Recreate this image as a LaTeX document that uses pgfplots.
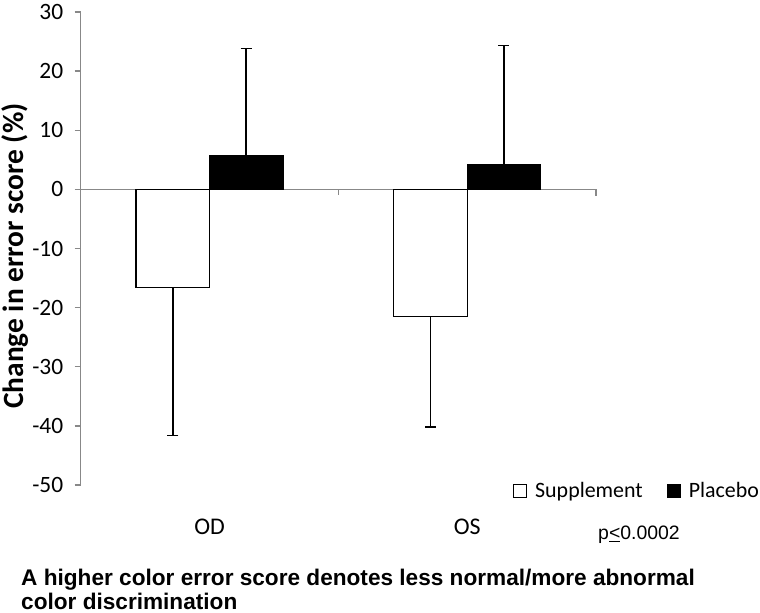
\documentclass[border=0pt]{standalone}
\usepackage{fontspec}
\setmainfont{Carlito}
\newfontfamily\arial{Liberation Sans}
\usepackage{pgfplots}
\pgfplotsset{compat=1.18}
\definecolor{axisgray}{HTML}{888888}
% x positions: category centre (0.5 = OD, 1.5 = OS) -/+ half a bar width
\pgfplotstableread{
x y e
0.3575 -16.6 25.0
1.3575 -21.5 18.7
}\supp
\pgfplotstableread{
x y e
0.6425 5.7 18.1
1.6425 4.1 20.2
}\plac
\begin{document}
\begin{tikzpicture}
\path[use as bounding box] (0,0) rectangle (760bp,613bp);
\begin{axis}[
  at={(80.7bp,128bp)}, anchor=south west,
  scale only axis, width=515.3bp, height=473bp,
  xmin=0, xmax=2, ymin=-50, ymax=30,
  axis y line=left, axis x line=bottom, axis line style={-},
  x axis line style={draw=none},
  y axis line style={draw=axisgray, line width=1.3bp},
  xtick={0.5,1.5}, xticklabels={OD,OS},
  x tick style={draw=none},
  xticklabel style={font=\fontsize{24}{24}\selectfont, yshift=-24bp},
  ytick={-50,-40,-30,-20,-10,0,10,20,30},
  yticklabels={-50,-40,-30,-20,-10,0,10,20,30},
  yticklabel style={font=\fontsize{23.5}{23.5}\selectfont, xshift=-8bp},
  y tick style={draw=axisgray, line width=1.3bp},
  tick align=outside, major tick length=6bp,
  ylabel={\bfseries Change in error score (\%)},
  ylabel style={font=\fontsize{29.5}{29.5}\selectfont, at={(axis description cs:-0.1275,0.484)}, anchor=center},
  clip=false,
  legend columns=2,
  legend cell align=left,
  legend style={draw=none, fill=none, at={(axis description cs:0.8389,-0.0127)}, anchor=west,
    inner sep=0pt, font=\fontsize{22}{22}\selectfont,
    /tikz/every odd column/.append style={column sep=6bp},
    /tikz/every even column/.append style={column sep=22bp}},
]
\draw[axisgray, line width=1.3bp] (axis cs:0,0) -- (axis cs:2,0);
\draw[axisgray, line width=1.3bp] (axis cs:1,0) -- ++(0pt,-6bp);
\draw[axisgray, line width=1.3bp] (axis cs:2,0) -- ++(0pt,-7bp);
\addplot[ybar, bar width=0.285, bar shift=0, fill=white, draw=black, line width=1.3bp,
  legend image code/.code={\draw[fill=white, draw=black, line width=1bp] (0bp,-6.5bp) rectangle (13bp,6.5bp);},
  error bars/.cd, y dir=minus, y explicit,
  error bar style={line width=1.5bp, black},
  error mark options={rotate=90, mark size=5.5bp, line width=1.5bp, black}]
  table[x=x, y=y, y error minus=e] {\supp};
\addlegendentry{Supplement}
\addplot[ybar, bar width=0.285, bar shift=0, fill=black, draw=black, line width=1.3bp,
  legend image code/.code={\draw[fill=black, draw=black, line width=1bp] (0bp,-6.5bp) rectangle (13bp,6.5bp);},
  error bars/.cd, y dir=plus, y explicit,
  error bar style={line width=1.5bp, black},
  error mark options={rotate=90, mark size=5.5bp, line width=1.5bp, black}]
  table[x=x, y=y, y error plus=e] {\plac};
\addlegendentry{Placebo}
\end{axis}
\node[anchor=base west, inner sep=0pt, font=\arial\fontsize{19.5}{19.5}\selectfont] at (598bp,73.5bp) {p\underline{<}0.0002};
\node[anchor=base west, inner sep=0pt, font=\arial\bfseries\fontsize{22.7}{24}\selectfont] at (21bp,28bp) {A higher color error score denotes less normal/more abnormal};
\node[anchor=base west, inner sep=0pt, font=\arial\bfseries\fontsize{22.7}{24}\selectfont] at (21bp,4bp) {color discrimination};
\end{tikzpicture}
\end{document}
